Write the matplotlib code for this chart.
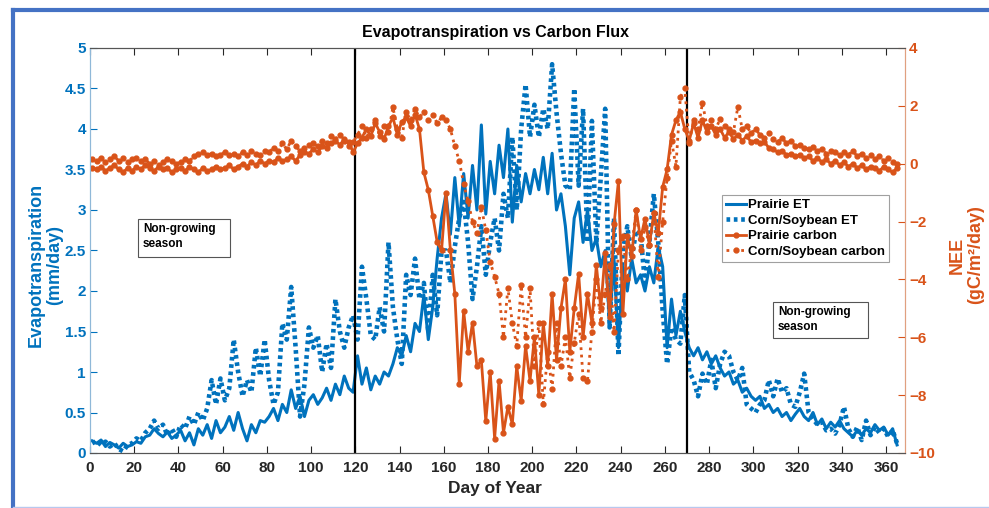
import numpy as np
import matplotlib
matplotlib.use('Agg')
import matplotlib.pyplot as plt
from matplotlib.lines import Line2D
from matplotlib.patches import Rectangle

plt.rcParams['font.family'] = ['Liberation Sans', 'DejaVu Sans']
plt.rcParams['font.weight'] = 'bold'

# every other day of the year
days = np.arange(1, 366, 2)

# evapotranspiration, mm/day
prairie_et = [
    0.15, 0.12, 0.16, 0.08, 0.13, 0.10, 0.06, 0.12, 0.08, 0.10,
    0.14, 0.12, 0.20, 0.22, 0.30, 0.24, 0.20, 0.26, 0.18, 0.22,
    0.28, 0.15, 0.25, 0.10, 0.30, 0.22, 0.35, 0.18, 0.40, 0.25,
    0.32, 0.45, 0.28, 0.50, 0.30, 0.15, 0.35, 0.25, 0.40, 0.38,
    0.45, 0.55, 0.40, 0.60, 0.50, 0.78, 0.55, 0.70, 0.45, 0.65,
    0.72, 0.60, 0.68, 0.80, 0.65, 0.85, 0.72, 0.95, 0.80, 0.75,
    1.20, 0.85, 1.05, 0.78, 0.95, 0.85, 1.00, 0.95, 1.10, 1.30,
    1.20, 1.45, 1.25, 1.60, 1.50, 1.95, 1.40, 1.80, 2.40, 2.90,
    3.20, 2.70, 3.40, 2.80, 3.45, 2.90, 3.55, 3.00, 4.05, 2.95,
    3.60, 3.20, 3.80, 3.40, 4.00, 2.85, 3.55, 3.10, 3.45, 3.20,
    3.50, 3.25, 3.65, 3.20, 3.70, 3.00, 3.20, 2.80, 2.20, 2.90,
    3.10, 2.60, 3.00, 2.50, 2.65, 2.30, 2.50, 1.60, 2.40, 1.30,
    2.30, 2.00, 2.40, 2.10, 2.20, 2.00, 2.30, 2.10, 2.55, 2.30,
    1.30, 1.90, 1.45, 1.75, 1.50, 1.30, 1.20, 1.30, 1.15, 1.25,
    1.10, 1.20, 1.05, 0.95, 1.00, 0.85, 0.90, 0.75, 0.80, 0.70,
    0.65, 0.70, 0.55, 0.60, 0.50, 0.55, 0.45, 0.50, 0.40, 0.48,
    0.55, 0.45, 0.40, 0.50, 0.35, 0.42, 0.30, 0.38, 0.32, 0.40,
    0.30, 0.25, 0.20, 0.28, 0.22, 0.30, 0.25, 0.35, 0.28, 0.32,
    0.22, 0.30, 0.10,
]
corn_et = [
    0.12, 0.15, 0.10, 0.14, 0.08, 0.12, 0.05, 0.02, 0.10, 0.12,
    0.18, 0.15, 0.25, 0.30, 0.40, 0.30, 0.35, 0.22, 0.30, 0.20,
    0.35, 0.30, 0.45, 0.35, 0.50, 0.40, 0.55, 0.90, 0.60, 0.92,
    0.65, 0.80, 1.40, 1.00, 0.70, 0.90, 0.75, 1.30, 0.95, 1.40,
    0.90, 0.60, 0.75, 1.60, 1.40, 2.05, 1.30, 0.45, 0.85, 1.55,
    1.30, 1.45, 1.00, 1.35, 1.05, 1.90, 1.50, 1.30, 1.55, 1.70,
    1.40, 2.30, 1.90, 1.45, 1.40, 1.80, 1.50, 2.60, 1.80, 1.40,
    1.10, 2.20, 1.95, 2.40, 1.90, 2.10, 1.50, 2.20, 1.70, 2.50,
    2.50, 2.10, 2.55, 2.90, 3.10, 2.60, 1.90, 2.30, 2.80, 2.20,
    2.60, 2.90, 2.50, 3.20, 2.90, 3.90, 3.00, 4.00, 4.55, 3.90,
    4.30, 3.90, 4.25, 4.00, 4.80, 4.20, 3.70, 3.30, 3.25, 4.50,
    3.30, 4.25, 2.60, 4.10, 2.60, 3.40, 4.25, 1.55, 2.90, 1.20,
    2.50, 2.80, 2.40, 2.75, 2.70, 2.10, 2.60, 3.20, 2.60, 1.75,
    1.10, 1.55, 1.40, 1.35, 1.95, 1.00, 0.90, 0.70, 0.98, 0.85,
    1.15, 0.80, 1.10, 1.25, 1.20, 1.00, 0.90, 1.05, 0.60, 0.55,
    0.50, 0.60, 0.65, 0.90, 0.70, 0.92, 0.75, 0.80, 0.60, 0.57,
    0.75, 0.98, 0.50, 0.42, 0.35, 0.38, 0.28, 0.30, 0.24, 0.35,
    0.57, 0.30, 0.20, 0.32, 0.16, 0.40, 0.22, 0.32, 0.25, 0.30,
    0.20, 0.28, 0.12,
]

# net ecosystem exchange, gC/m2/day
prairie_nee = [
    -0.15, -0.20, -0.10, -0.25, -0.15, -0.05, -0.20, -0.30, -0.15, -0.25,
    -0.10, -0.20, -0.05, -0.15, -0.25, -0.10, -0.20, -0.15, -0.30, -0.20,
    -0.15, -0.25, -0.10, -0.20, -0.30, -0.15, -0.25, -0.20, -0.10, -0.20,
    -0.15, -0.05, -0.20, -0.10, 0.00, -0.10, 0.05, -0.05, 0.10, 0.00,
    0.10, 0.05, 0.20, 0.10, 0.15, 0.25, 0.10, 0.30, 0.40, 0.35,
    0.50, 0.40, 0.60, 0.55, 0.70, 0.80, 0.65, 0.85, 0.75, 0.40,
    0.70, 0.90, 1.20, 0.95, 1.40, 1.10, 0.85, 1.30, 1.60, 1.00,
    1.45, 1.60, 1.30, 1.70, 1.20, -0.30, -0.90, -1.80, -2.70, -3.00,
    -1.00, -3.00, -4.50, -7.60, -5.10, -6.50, -5.50, -7.00, -6.80, -8.90,
    -7.20, -9.50, -7.50, -9.30, -8.40, -9.00, -7.00, -8.20, -6.30, -7.50,
    -6.00, -8.00, -5.50, -7.00, -4.50, -6.80, -5.00, -4.00, -6.50, -5.00,
    -3.80, -6.00, -4.50, -5.50, -3.50, -5.00, -3.10, -5.30, -2.10, -0.60,
    -5.20, -2.50, -3.20, -1.60, -2.60, -1.90, -2.80, -1.70, -2.40, -0.80,
    -0.20, 1.00, 1.50, 1.80, 1.20, 0.80, 1.40, 0.90, 1.50, 1.10,
    1.30, 1.00, 1.20, 0.90, 1.10, 0.85, 1.00, 0.80, 0.95, 0.75,
    0.80, 0.70, 0.75, 0.55, 0.50, 0.40, 0.45, 0.30, 0.35, 0.25,
    0.30, 0.20, 0.25, 0.10, 0.20, 0.05, 0.15, 0.00, 0.10, -0.05,
    0.05, -0.10, 0.00, -0.15, -0.05, -0.20, -0.10, -0.15, -0.25, -0.10,
    -0.20, -0.30, -0.15,
]
corn_nee = [
    0.15, 0.10, 0.20, 0.05, 0.15, 0.25, 0.10, 0.20, 0.05, 0.15,
    0.20, 0.10, 0.15, 0.00, 0.10, -0.05, 0.05, 0.15, 0.10, 0.00,
    0.05, 0.15, 0.10, 0.25, 0.35, 0.40, 0.30, 0.35, 0.25, 0.30,
    0.40, 0.30, 0.35, 0.25, 0.40, 0.30, 0.45, 0.35, 0.30, 0.45,
    0.40, 0.55, 0.45, 0.70, 0.50, 0.80, 0.60, 0.45, 0.55, 0.65,
    0.70, 0.60, 0.80, 0.70, 0.95, 0.85, 1.00, 0.80, 0.60, 0.75,
    1.00, 1.30, 0.90, 1.20, 1.50, 0.95, 1.30, 1.10, 1.95, 1.20,
    0.90, 1.80, 1.50, 1.90, 1.60, 1.80, 1.50, 1.70, 1.40, 1.60,
    1.50, 1.20, 0.60, 0.10, -0.70, -1.30, -2.00, -2.40, -1.50, -2.30,
    -3.40, -3.90, -4.50, -6.00, -4.30, -5.50, -6.30, -4.20, -6.00, -4.30,
    -7.00, -5.50, -8.30, -6.50, -7.80, -5.50, -7.00, -6.00, -7.40, -6.20,
    -5.20, -7.40, -7.50, -5.80, -4.00, -5.50, -4.50, -3.50, -5.80, -3.00,
    -2.50, -4.00, -2.90, -1.60, -3.00, -2.20, -2.80, -1.70, -3.90, -2.00,
    -0.50, 0.80, -0.10, 2.30, 2.60, 0.70, 1.50, 1.20, 2.10, 1.30,
    1.50, 1.20, 1.55, 1.30, 1.20, 1.10, 1.96, 1.20, 1.30, 1.05,
    1.20, 1.00, 0.90, 1.05, 0.85, 0.75, 0.90, 0.70, 0.80, 0.60,
    0.65, 0.55, 0.50, 0.58, 0.45, 0.50, 0.35, 0.45, 0.40, 0.30,
    0.40, 0.30, 0.45, 0.25, 0.35, 0.20, 0.30, 0.15, 0.25, 0.10,
    0.20, 0.05, 0.00,
]

season_bounds = [120, 270]
x_ticks = list(range(0, 361, 20))
et_ticks = [0, 0.5, 1, 1.5, 2, 2.5, 3, 3.5, 4, 4.5, 5]
et_labels = ['0', '0.5', '1', '1.5', '2', '2.5', '3', '3.5', '4', '4.5', '5']
nee_ticks = [-10, -8, -6, -4, -2, 0, 2, 4]

blue = '#0072BD'
orange = '#D95319'
dark = '#262626'

fig = plt.figure(figsize=(9.89, 5.08), dpi=100)
ax = fig.add_axes([90 / 989, 55 / 508, 815 / 989, 405 / 508])
ax2 = ax.twinx()

h1, = ax.plot(days, prairie_et, color=blue, lw=2.2, label='Prairie ET')
h2, = ax.plot(days, corn_et, color=blue, lw=3.3, linestyle=(0, (0.8, 0.8)),
              label='Corn/Soybean ET')
for b in season_bounds:
    ax.axvline(b, color='black', lw=1.6)

h3, = ax2.plot(days, prairie_nee, color=orange, lw=2.0, marker='.', ms=7,
               label='Prairie carbon')
h4, = ax2.plot(days, corn_nee, color=orange, lw=2.0, linestyle=':', marker='.',
               ms=7, label='Corn/Soybean carbon')

ax.set_xlim(0, 368.6)
ax.set_ylim(0, 5)
ax2.set_ylim(-10, 4)
ax.set_xticks(x_ticks)
ax.set_yticks(et_ticks)
ax.set_yticklabels(et_labels)
ax2.set_yticks(nee_ticks)

ax.tick_params(axis='x', direction='in', top=True, length=5, width=0.8,
               pad=6, labelsize=11, colors=dark)
ax.tick_params(axis='y', direction='in', length=5, width=0.8, pad=3,
               labelsize=11, colors=blue)
ax2.tick_params(axis='y', direction='in', length=5, width=0.8, pad=3,
                labelsize=11, colors=orange)
for a in (ax, ax2):
    a.spines['left'].set_color('#8fb8d8')
    a.spines['right'].set_color('#e0a080')
    a.spines['top'].set_color('#555555')
    a.spines['bottom'].set_color('#555555')

fig.text(495 / 989, 1 - 33 / 508, 'Evapotranspiration vs Carbon Flux',
         ha='center', va='center', fontsize=11.5, color='black')
fig.text(495 / 989, 1 - 488 / 508, 'Day of Year', ha='center', va='center',
         fontsize=12.5, color=dark)
fig.text(45 / 989, 1 - 265 / 508, 'Evapotranspiration\n(mm/day)',
         rotation=90, ha='center', va='center', multialignment='center',
         fontsize=13, color=blue, linespacing=1.1)
fig.text(966 / 989, 1 - 255 / 508, 'NEE\n(gC/m\u00b2/day)',
         rotation=90, ha='center', va='center', multialignment='center',
         fontsize=13, color=orange, linespacing=1.1)

leg = ax2.legend(handles=[h1, h2, h3, h4], loc='upper left',
                 bbox_to_anchor=(722 / 989, 1 - 195 / 508),
                 bbox_transform=fig.transFigure, fontsize=9.5, frameon=True,
                 fancybox=False, handlelength=1.5, handletextpad=0.2,
                 labelspacing=0.25, borderpad=0.3, borderaxespad=0)
leg.get_frame().set_edgecolor('#888888')
leg.get_frame().set_linewidth(0.8)

# text boxes marking the dormant periods
for x0, y0, w, h in [(138, 219, 92, 38), (773, 302, 95, 36)]:
    fig.add_artist(Rectangle((x0 / 989, 1 - (y0 + h) / 508), w / 989, h / 508,
                             transform=fig.transFigure, facecolor='white',
                             edgecolor='#555555', lw=0.8))
    fig.text((x0 + 5) / 989, 1 - (y0 + 4) / 508, 'Non-growing\nseason',
             ha='left', va='top', fontsize=8.5, color='black',
             linespacing=1.3)

# slide frame
fig.add_artist(Line2D([13 / 989, 1.0], [1 - 10 / 508, 1 - 10 / 508],
                      transform=fig.transFigure, color='#4472C4', lw=3))
fig.add_artist(Line2D([13 / 989, 13 / 989], [0, 1 - 10 / 508],
                      transform=fig.transFigure, color='#4472C4', lw=3))
fig.add_artist(Line2D([13 / 989, 1.0], [1.5 / 508, 1.5 / 508],
                      transform=fig.transFigure, color='#b8c8ee', lw=1))

fig.savefig('out.png', dpi=100)
